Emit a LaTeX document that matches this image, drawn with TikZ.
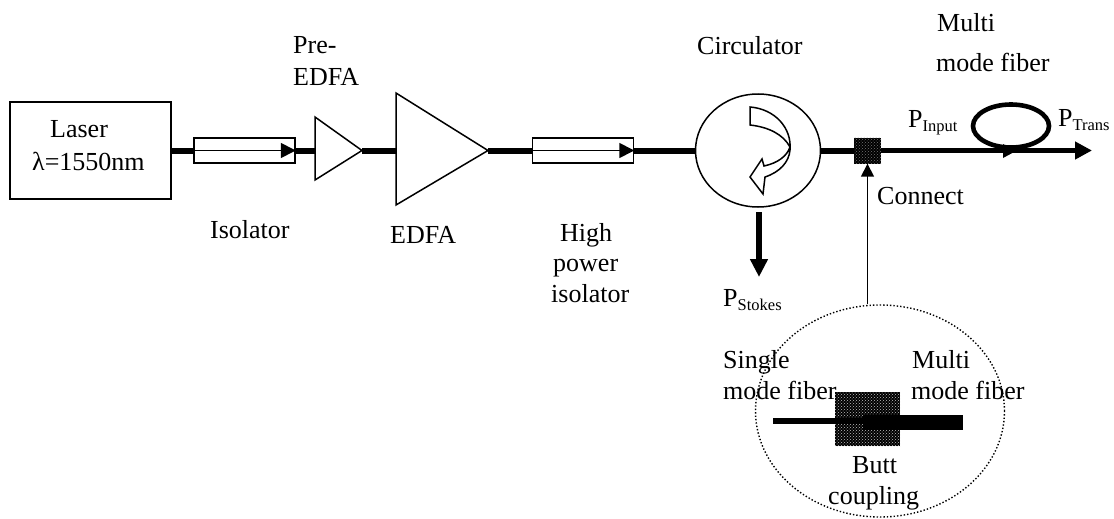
\documentclass[tikz,border=0pt]{standalone}
\usepackage{fontspec}
\setmainfont{Liberation Serif}
\usetikzlibrary{arrows.meta,shapes.geometric,patterns}
\newcommand{\subtxt}[1]{\raisebox{-4pt}{\fontsize{16.5}{18}\selectfont #1}}
\tikzset{
  lbl/.style={anchor=base west,inner sep=0pt,font=\fontsize{26}{30}\selectfont},
  fiber/.style={line width=6pt},
  thin box/.style={draw,line width=1.5pt,inner sep=0pt,rectangle},
  iso/.style={thin box,minimum width=101pt,minimum height=25pt},
  amp/.style={draw,line width=1.5pt,line join=miter},
  noisy/.style={preaction={fill=black},pattern=crosshatch dots,pattern color=white!75!black},
  noisydark/.style={preaction={fill=black},pattern=crosshatch dots,pattern color=white!45!black},
  thead/.style={-{Triangle[length=15pt,width=15pt]}},
}
\begin{document}
\begin{tikzpicture}[x=1pt,y=-1pt]
\useasboundingbox (0,0) rectangle (1114,519);
% main units
\node[thin box,minimum width=161pt,minimum height=97pt] (laser) at (90.5,150.5) {};
\node[iso] (isoa) at (244.5,150.5) {};
\node[iso] (isob) at (583,150.5) {};
\coordinate (preW) at (315,150.5); \coordinate (preE) at (362,150.5);
\coordinate (edfaW) at (396,150.5); \coordinate (edfaE) at (488,150.5);
\draw[amp] (315,117) -- (preE) -- (315,180) -- cycle;
\draw[amp] (396,93) -- (edfaE) -- (396,205) -- cycle;
\node[ellipse,draw,line width=1.5pt,minimum width=125pt,minimum height=113pt,inner sep=0pt] (circ) at (758,150.5) {};
\node[rectangle,noisydark,minimum width=27pt,minimum height=26pt,inner sep=0pt] (conn) at (867.5,150.5) {};
\coordinate (fibEnd) at (1092,150.5);
% fibers
\draw[fiber] (laser.east) -- (isoa.west);
\draw[line width=1.8pt,thead] (isoa.west) -- (isoa.east);
\draw[fiber] (isoa.east) -- (preW);
\draw[fiber] (preE) -- (edfaW);
\draw[fiber] (edfaE) -- (isob.west);
\draw[line width=1.8pt,thead] (isob.west) -- (isob.east);
\draw[fiber] (isob.east) -- (circ.west);
\draw[fiber] (circ.east) -- (conn.west);
\draw[line width=5.5pt,-{Triangle[length=17pt,width=17pt]}] (conn.east) -- (fibEnd);
\coordinate (loopS) at (1010,151);
\node[ellipse,draw,line width=4.6pt,minimum width=76pt,minimum height=43pt,inner sep=0pt] (loop) at (1011,126) {};
\fill (loopS) ++(-7,-7) -- ++(13,7) -- ++(-13,7) -- cycle;
% circulator arrow
\draw[line width=1.5pt,fill=white,line join=miter]
  (750,107) .. controls (775,109) and (792,128) .. (790,150)
  .. controls (789,162) and (780,172) .. (765,177)
  -- (763,194) -- (750,177) -- (762,159) -- (764,166)
  .. controls (778,163) and (787,156) .. (790,147)
  .. controls (783,134) and (768,127) .. (750,125) -- cycle;
% stokes + connect arrows
\coordinate (stkA) at (759,212); \coordinate (stkB) at (759,277);
\draw[line width=6pt,-{Triangle[length=18pt,width=17pt]}] (stkA) -- (stkB);
\node[ellipse,draw,dotted,line width=1.4pt,minimum width=249pt,minimum height=212pt,inner sep=0pt] (zoomE) at (880,411) {};
\draw[line width=1.5pt,-{Triangle[length=13pt,width=13pt]}] (conn.south |- zoomE.north) -- (conn.south);
% butt coupling
\node[rectangle,noisy,minimum width=65pt,minimum height=54pt,inner sep=0pt] (butt) at (867.5,419) {};
\coordinate (smfA) at (773,420.5); \coordinate (smfB) at (863,420.5);
\coordinate (mmfA) at (863,422.5); \coordinate (mmfB) at (963,422.5);
\draw[line width=6pt] (smfA) -- (smfB);
\draw[line width=15pt] (mmfA) -- (mmfB);
% labels
\node[lbl] (t1) at (50,137) {Laser};
\node[lbl] (t2) at (32,170) {λ=1550nm};
\node[lbl] (t3) at (293,54) {Pre-};
\node[lbl] (t4) at (293,85) {EDFA};
\node[lbl] (t5) at (210,238) {Isolator};
\node[lbl] (t6) at (390,243) {EDFA};
\node[lbl] (t7) at (560,241) {High};
\node[lbl] (t8) at (553,271) {power};
\node[lbl] (t9) at (551,302) {isolator};
\node[lbl] (t10) at (697,55) {Circulator};
\node[lbl] (t11) at (937,32) {Multi};
\node[lbl] (t12) at (936,71) {mode fiber};
\node[lbl] (t13) at (908,128) {P\subtxt{Input}};
\node[lbl] (t14) at (1058,126) {P\subtxt{Trans}};
\node[lbl] (t15) at (877,204) {Connect};
\node[lbl] (t16) at (723,306) {P\subtxt{Stokes}};
\node[lbl] (t17) at (723,368) {Single};
\node[lbl] (t18) at (723,399) {mode fiber};
\node[lbl] (t19) at (912,368) {Multi};
\node[lbl] (t20) at (911,399) {mode fiber};
\node[lbl] (t21) at (852,473) {Butt};
\node[lbl] (t22) at (828,504) {coupling};
\end{tikzpicture}
\end{document}
